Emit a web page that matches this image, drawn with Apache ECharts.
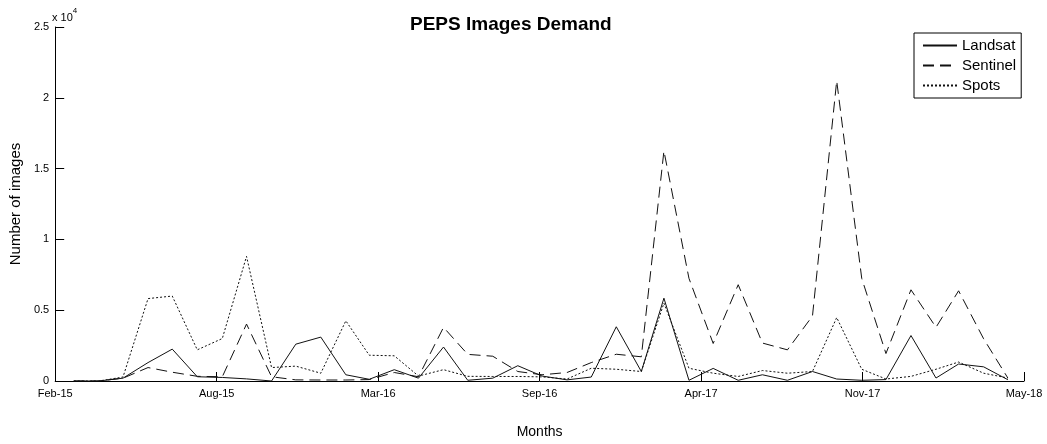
<!DOCTYPE html>
<html>
<head>
<meta charset="utf-8">
<script src="https://cdn.jsdelivr.net/npm/echarts@6/dist/echarts.min.js"></script>
<style>html,body{margin:0;padding:0;background:#fff}#c{width:1047px;height:444px}</style>
</head>
<body>
<div id="c"></div>
<script>
// Monthly observations, Mar-15 .. May-18
var firstMonth = [2015, 3];
var monthCount = 39;
var landsat = [0,0,200,1300,2250,300,250,150,0,2600,3100,440,120,800,200,2400,50,200,1080,350,80,280,3830,670,5850,50,890,50,440,50,670,140,50,100,3210,210,1200,1000,90];
var sentinel = [0,0,200,950,620,330,300,4020,300,80,70,70,100,600,300,3790,1880,1750,670,440,600,1300,1890,1710,16250,7250,2650,6800,2680,2200,4590,21200,7250,1940,6440,3790,6370,2980,210];
var spots = [0,0,280,5820,6000,2200,3000,8800,950,1050,550,4250,1820,1780,350,800,330,320,320,290,140,900,830,670,5500,900,550,320,740,550,670,4480,830,140,325,830,1340,550,210];
var xTickLabels = ['Feb-15','Aug-15','Mar-16','Sep-16','Apr-17','Nov-17','May-18'];
var yTickLabels = ['0','0.5','1','1.5','2','2.5'];

var origin = Date.UTC(2015, 1, 6);
var DAY = 86400000;
var xDays = [];
for (var i = 0; i < monthCount; i++) {
  var m = firstMonth[1] - 1 + i;
  xDays.push((Date.UTC(firstMonth[0] + Math.floor(m / 12), m % 12, 1) - origin) / DAY);
}
function pairs(vals) { return vals.map(function (v, i) { return [xDays[i], v]; }); }

var FONT = 'Liberation Sans, Arial, sans-serif';
var chart = echarts.init(document.getElementById('c'), null, {renderer: 'canvas'});
chart.setOption({
  animation: false,
  backgroundColor: '#fff',
  title: {
    text: 'PEPS Images Demand', left: 405, top: 10,
    textStyle: {fontFamily: FONT, fontSize: 19, fontWeight: 'bold', color: '#000'}
  },
  legend: {
    orient: 'vertical', left: 914, top: 33,
    backgroundColor: '#fff', borderColor: '#000', borderWidth: 1, borderRadius: 0,
    padding: [5, 5, 5, 8], itemGap: 5, itemWidth: 34, itemHeight: 16,
    itemStyle: {opacity: 0},
    textStyle: {fontFamily: FONT, fontSize: 15, color: '#000'},
    data: ['Landsat', 'Sentinel', 'Spots']
  },
  graphic: [{
    type: 'text', left: 52, top: 7,
    style: {
      text: '{a|x 10}{b|4}', fill: '#000',
      rich: {
        a: {fontFamily: FONT, fontSize: 11, fill: '#000', padding: [5, 0, 0, 0]},
        b: {fontFamily: FONT, fontSize: 8, fill: '#000', verticalAlign: 'top'}
      }
    }
  }],
  grid: {left: 52, right: 23, top: 27, bottom: 56, containLabel: false},
  xAxis: {
    type: 'value', min: 0, max: 1200, interval: 200,
    name: 'Months', nameLocation: 'middle', nameGap: 44,
    nameTextStyle: {fontFamily: FONT, fontSize: 14, color: '#000'},
    axisLine: {show: true, onZero: false, lineStyle: {color: '#000', width: 1}},
    axisTick: {show: true, inside: true, length: 9, lineStyle: {color: '#000'}},
    axisLabel: {
      fontFamily: FONT, fontSize: 11, color: '#000', margin: 7,
      formatter: function (v) { return xTickLabels[Math.round(v / 200)] || ''; }
    },
    splitLine: {show: false}
  },
  yAxis: {
    type: 'value', min: 0, max: 25000, interval: 5000,
    name: 'Number of images', nameLocation: 'middle', nameGap: 30, nameRotate: 90,
    nameTextStyle: {fontFamily: FONT, fontSize: 15, color: '#000'},
    axisLine: {show: true, lineStyle: {color: '#000', width: 1}},
    axisTick: {show: true, inside: true, length: 9, lineStyle: {color: '#000'}},
    axisLabel: {
      fontFamily: FONT, fontSize: 11, color: '#000', margin: 6,
      formatter: function (v) { return yTickLabels[Math.round(v / 5000)]; }
    },
    splitLine: {show: false}
  },
  series: [
    {name: 'Landsat', type: 'line', data: pairs(landsat), symbol: 'none',
     lineStyle: {color: '#111', width: 1, type: 'solid'}, itemStyle: {color: '#111'}},
    {name: 'Sentinel', type: 'line', data: pairs(sentinel), symbol: 'none',
     lineStyle: {color: '#111', width: 1, type: [11, 6]}, itemStyle: {color: '#111'}},
    {name: 'Spots', type: 'line', data: pairs(spots), symbol: 'none',
     lineStyle: {color: '#111', width: 1, type: [2, 2]}, itemStyle: {color: '#111'}}
  ]
});
</script>
</body>
</html>
